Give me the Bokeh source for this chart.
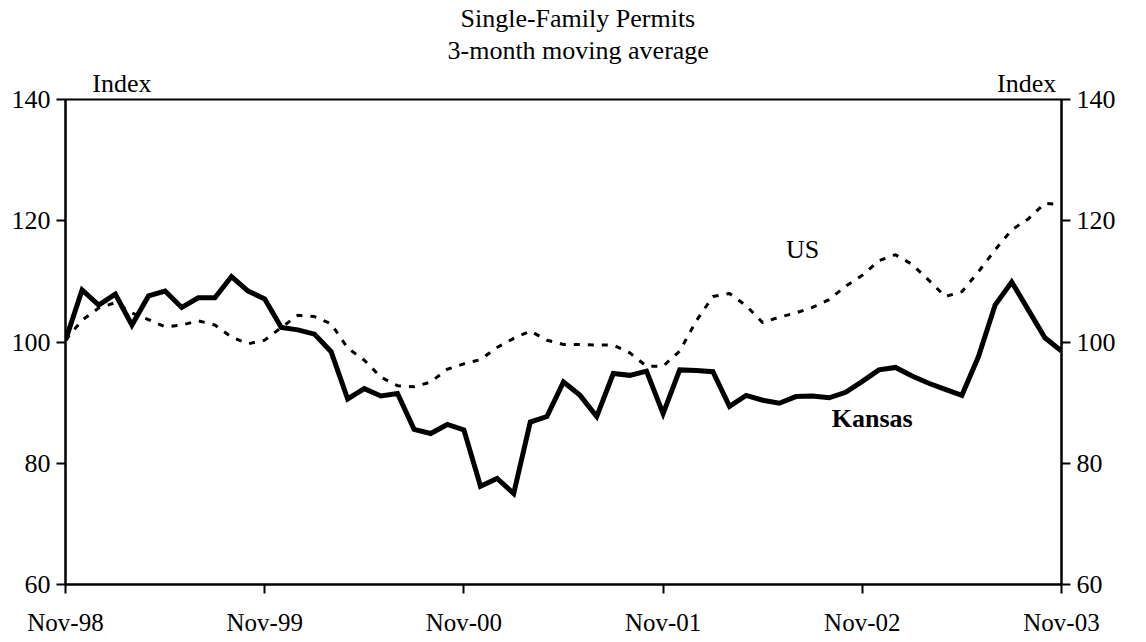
from bokeh.plotting import figure
from bokeh.models import Range1d, LinearAxis, FixedTicker, Label, Title
from bokeh.embed import file_html
from bokeh.resources import INLINE

# Monthly index, Nov-98 .. Nov-03 (61 months)
kansas = [100.3, 108.6, 106.1, 107.9, 102.8, 107.6, 108.4, 105.7, 107.3, 107.3,
          110.8, 108.4, 107.1, 102.4, 102.0, 101.3, 98.4, 90.6, 92.3, 91.1,
          91.5, 85.6, 84.9, 86.4, 85.5, 76.2, 77.5, 75.0, 86.8, 87.7,
          93.4, 91.2, 87.7, 94.8, 94.5, 95.2, 88.2, 95.4, 95.3, 95.1,
          89.4, 91.2, 90.4, 89.9, 91.0, 91.1, 90.8, 91.7, 93.5, 95.4,
          95.8, 94.4, 93.2, 92.2, 91.2, 97.6, 106.1, 109.9, 105.3, 100.7,
          98.5]
us = [100.3, 103.6, 105.6, 106.5, 104.8, 103.7, 102.5, 102.8, 103.5, 102.8,
      100.8, 99.7, 100.3, 102.4, 104.4, 104.2, 103.0, 99.0, 97.0, 94.2,
      92.8, 92.6, 93.4, 95.5, 96.4, 97.1, 99.1, 100.6, 101.8, 100.3,
      99.6, 99.6, 99.5, 99.5, 98.2, 96.0, 96.0, 98.5, 103.5, 107.5,
      108.0, 106.0, 103.2, 104.1, 104.8, 105.7, 107.0, 109.2, 111.0, 113.4,
      114.4, 112.8, 110.2, 107.5, 108.3, 111.6, 115.2, 118.5, 120.3, 122.9,
      122.6]
months = list(range(len(kansas)))
tick_months = [0, 12, 24, 36, 48, 60]
tick_labels = ["Nov-98", "Nov-99", "Nov-00", "Nov-01", "Nov-02", "Nov-03"]
y_ticks = [60, 80, 100, 120, 140]
title_lines = ["Single-Family Permits", "3-month moving average"]
unit_label = "Index"
unit_label_pos = [3.4, 57.9]   # where the two "Index" captions sit along the top

FONT = "Liberation Serif"

p = figure(width=1146, height=642, output_backend="svg", toolbar_location=None,
           title=None,
           x_range=Range1d(0, 60), y_range=Range1d(60, 140),
           min_border_left=65, min_border_right=85, min_border_top=99,
           min_border_bottom=58)
p.xgrid.visible = False
p.ygrid.visible = False
p.outline_line_color = "black"
p.outline_line_width = 2
p.background_fill_color = "white"
p.border_fill_color = "white"

p.add_layout(LinearAxis(), "right")

for ax in p.yaxis:
    ax.ticker = FixedTicker(ticks=y_ticks)
for ax in p.xaxis:
    ax.ticker = FixedTicker(ticks=tick_months)
    ax.major_label_overrides = {m: l for m, l in zip(tick_months, tick_labels)}

for ax in p.axis:
    ax.axis_line_color = "black"
    ax.axis_line_width = 2
    ax.major_tick_line_color = "black"
    ax.major_tick_line_width = 2
    ax.major_tick_out = 9
    ax.major_tick_in = 0
    ax.minor_tick_line_color = None
    ax.major_label_text_font = FONT
    ax.major_label_text_font_size = "26px"
    ax.major_label_text_color = "black"
    ax.major_label_standoff = 6
for ax in p.xaxis:
    ax.major_label_text_font_size = "25px"
    ax.major_label_standoff = 15

# "Index" captions above the frame, as an axis with only labels
top = LinearAxis(ticker=FixedTicker(ticks=unit_label_pos),
                 major_label_overrides={v: unit_label for v in unit_label_pos})
top.axis_line_color = None
top.major_tick_line_color = None
top.minor_tick_line_color = None
top.major_tick_out = 0
top.major_tick_in = 0
top.major_label_standoff = 2
top.major_label_text_font = FONT
top.major_label_text_font_size = "26px"
top.major_label_text_color = "black"
p.add_layout(top, "above")

p.add_layout(Title(text=title_lines[1], text_font=FONT, text_font_size="26px",
                   text_font_style="normal", align="left", offset=382,
                   text_color="black", standoff=2), "above")
p.add_layout(Title(text=title_lines[0], text_font=FONT, text_font_size="26px",
                   text_font_style="normal", align="left", offset=395,
                   text_color="black", standoff=0), "above")

p.line(months, us, line_color="black", line_width=3, line_dash="6 8")
p.line(months, kansas, line_color="black", line_width=5, line_join="miter")

def add_label(x, y, text, size="26px", style="normal"):
    p.add_layout(Label(x=x, y=y, text=text, text_font=FONT, text_font_size=size,
                       text_font_style=style, text_align="center",
                       text_baseline="middle", text_color="black"))

add_label(44.4, 115.2, "US")
add_label(48.6, 87.4, "Kansas", style="bold")

open("out.html", "w").write(file_html(p, INLINE))
